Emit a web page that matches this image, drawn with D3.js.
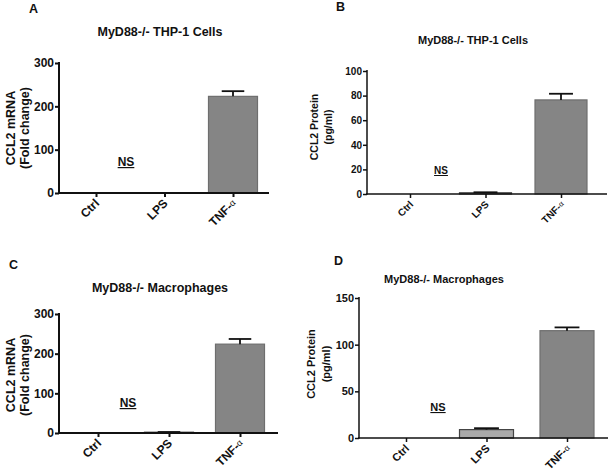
<!DOCTYPE html>
<html><head><meta charset="utf-8">
<script src="https://cdn.jsdelivr.net/npm/d3@7"></script>
<style>body{margin:0;background:#fff}svg{display:block}text{font-family:"Liberation Sans",Arial,sans-serif;font-weight:bold;fill:#111}</style>
</head><body>
<script>
const categories = ["Ctrl", "LPS", "TNF-α"];
const mrnaTHP1 = [0, 0, 223];
const mrnaTHP1Err = [0, 0, 12];
const proteinTHP1 = [0, 1, 76.5];
const proteinTHP1Err = [0, 0.4, 5];
const mrnaMac = [0, 2, 224];
const mrnaMacErr = [0, 0.5, 13];
const proteinMac = [0, 9, 115];
const proteinMacErr = [0, 1.5, 3.5];
const ticksMrna = [0, 100, 200, 300];
const ticksProtTHP1 = [0, 20, 40, 60, 80, 100];
const ticksProtMac = [0, 50, 100, 150];
const panelLetters = ["A", "B", "C", "D"];
const titles = ["MyD88-/- THP-1 Cells", "MyD88-/- THP-1 Cells", "MyD88-/-  Macrophages", "MyD88-/- Macrophages"];
const yLabelMrna = ["CCL2 mRNA", "(Fold change)"];
const yLabelProt = ["CCL2 Protein", "(pg/ml)"];

const W = 609, H = 476;
const svg = d3.select("body").append("svg").attr("width", W).attr("height", H);

const panels = [
  {letter: panelLetters[0], lx: 29, ly: 13, title: titles[0], tx: 160, ty: 36, tfs: 12.5,
   vals: mrnaTHP1, errs: mrnaTHP1Err, ticks: ticksMrna, ymax: 300,
   yax: 59, y0: 193, y1: 63, cx: [96, 233], xend: 269, bw: 49, fs: 12, lw: 2,
   ylab: yLabelMrna, ylx: [10, 24], ylc: 128, ylfs: 12.5, ns: [126, 166]},
  {letter: panelLetters[1], lx: 336, ly: 11, title: titles[1], tx: 473, ty: 44, tfs: 11,
   vals: proteinTHP1, errs: proteinTHP1Err, ticks: ticksProtTHP1, ymax: 100,
   yax: 367, y0: 194, y1: 71, cx: [410, 561], xend: 607, bw: 52, fs: 10, lw: 1.5,
   ylab: yLabelProt, ylx: [314, 328], ylc: 127, ylfs: 10.5, ns: [441, 174]},
  {letter: panelLetters[2], lx: 9, ly: 269, title: titles[2], tx: 160, ty: 292, tfs: 12.5,
   vals: mrnaMac, errs: mrnaMacErr, ticks: ticksMrna, ymax: 300,
   yax: 59, y0: 433, y1: 314, cx: [98, 240], xend: 278, bw: 49, fs: 12, lw: 2,
   ylab: yLabelMrna, ylx: [10, 24], ylc: 375, ylfs: 12.5, ns: [128, 407]},
  {letter: panelLetters[3], lx: 334, ly: 265, title: titles[3], tx: 444, ty: 283, tfs: 11,
   vals: proteinMac, errs: proteinMacErr, ticks: ticksProtMac, ymax: 150,
   yax: 359, y0: 438, y1: 298, cx: [406, 567], xend: 608, bw: 54, fs: 11, lw: 1.5,
   ylab: yLabelProt, ylx: [311, 326], ylc: 364, ylfs: 11, ns: [438, 411]}
];

const c45 = Math.SQRT1_2;

panels.forEach(p => {
  const g = svg.append("g");
  const x = d3.scalePoint().domain(categories).range(p.cx);
  const y = d3.scaleLinear().domain([0, p.ymax]).range([p.y0, p.y1]);

  g.append("text").attr("x", p.lx).attr("y", p.ly).attr("font-size", 12.5).text(p.letter);
  g.append("text").attr("x", p.tx).attr("y", p.ty).attr("text-anchor", "middle")
    .attr("font-size", p.tfs).text(p.title);

  const data = categories.map((c, i) => ({c, v: p.vals[i], e: p.errs[i], i}));
  g.selectAll("rect.bar").data(data.filter(d => d.v > 0)).join("rect")
    .attr("x", d => x(d.c) - p.bw / 2).attr("width", p.bw)
    .attr("y", d => y(d.v)).attr("height", d => y(0) - y(d.v))
    .attr("fill", d => d.i === 2 ? "#858585" : "#a9a9a9")
    .attr("stroke", d => d.i === 2 ? "#6e6e6e" : "#444").attr("stroke-width", 1.2);
  const eb = data.filter(d => d.e > 0);
  g.selectAll("line.err").data(eb).join("line")
    .attr("x1", d => x(d.c)).attr("x2", d => x(d.c))
    .attr("y1", d => y(d.v)).attr("y2", d => y(d.v + d.e))
    .attr("stroke", "#111").attr("stroke-width", 1.8);
  g.selectAll("line.cap").data(eb).join("line")
    .attr("x1", d => x(d.c) - p.bw * 0.23).attr("x2", d => x(d.c) + p.bw * 0.23)
    .attr("y1", d => y(d.v + d.e)).attr("y2", d => y(d.v + d.e))
    .attr("stroke", "#111").attr("stroke-width", 1.8);

  const ya = g.append("g").attr("transform", `translate(${p.yax},0)`)
    .call(d3.axisLeft(y).tickValues(p.ticks).tickSize(4).tickSizeOuter(0).tickFormat(d3.format("d")));
  ya.select(".domain").remove();
  ya.selectAll(".tick line").attr("stroke", "#111").attr("stroke-width", p.lw);
  ya.selectAll(".tick text").attr("font-size", p.fs).attr("font-family", "Liberation Sans, Arial, sans-serif")
    .attr("font-weight", "bold").attr("fill", "#111").attr("x", -5);
  g.append("line").attr("x1", p.yax).attr("x2", p.yax).attr("y1", p.y1 - 1).attr("y2", p.y0 + p.lw / 2)
    .attr("stroke", "#111").attr("stroke-width", p.lw);

  const xa = g.append("g").attr("transform", `translate(0,${p.y0})`)
    .call(d3.axisBottom(x).tickSize(4).tickSizeOuter(0));
  xa.select(".domain").remove();
  xa.selectAll(".tick line").attr("stroke", "#111").attr("stroke-width", p.lw);
  xa.selectAll(".tick text").remove();
  g.append("line").attr("x1", p.yax - 1).attr("x2", p.xend).attr("y1", p.y0).attr("y2", p.y0)
    .attr("stroke", "#111").attr("stroke-width", p.lw);

  categories.forEach(c => {
    const tx = x(c) + 4, ty = p.y0 + 11;
    const t = g.append("text").attr("x", 0).attr("y", 0).attr("text-anchor", "end").attr("font-size", p.fs)
      .attr("transform", `matrix(${c45},${-c45},${c45},${c45},${tx},${ty})`)
      .style("transform", `translate(${tx}px,${ty}px) rotate(-45deg)`);
    if (c === "TNF-α") {
      t.append("tspan").text("TNF-");
      t.append("tspan").attr("font-size", p.fs * 0.75).attr("font-weight", "normal").attr("dy", -1).text("α");
    } else t.text(c);
  });

  p.ylab.forEach((s, i) => {
    g.append("text").attr("transform", `translate(${p.ylx[i] + p.ylfs * 0.38},${p.ylc}) rotate(-90)`)
      .attr("text-anchor", "middle").attr("font-size", p.ylfs).text(s);
  });

  g.append("text").attr("x", p.ns[0]).attr("y", p.ns[1]).attr("text-anchor", "middle")
    .attr("font-size", p.fs).attr("text-decoration", "underline").text("NS");
});
</script>
</body></html>
